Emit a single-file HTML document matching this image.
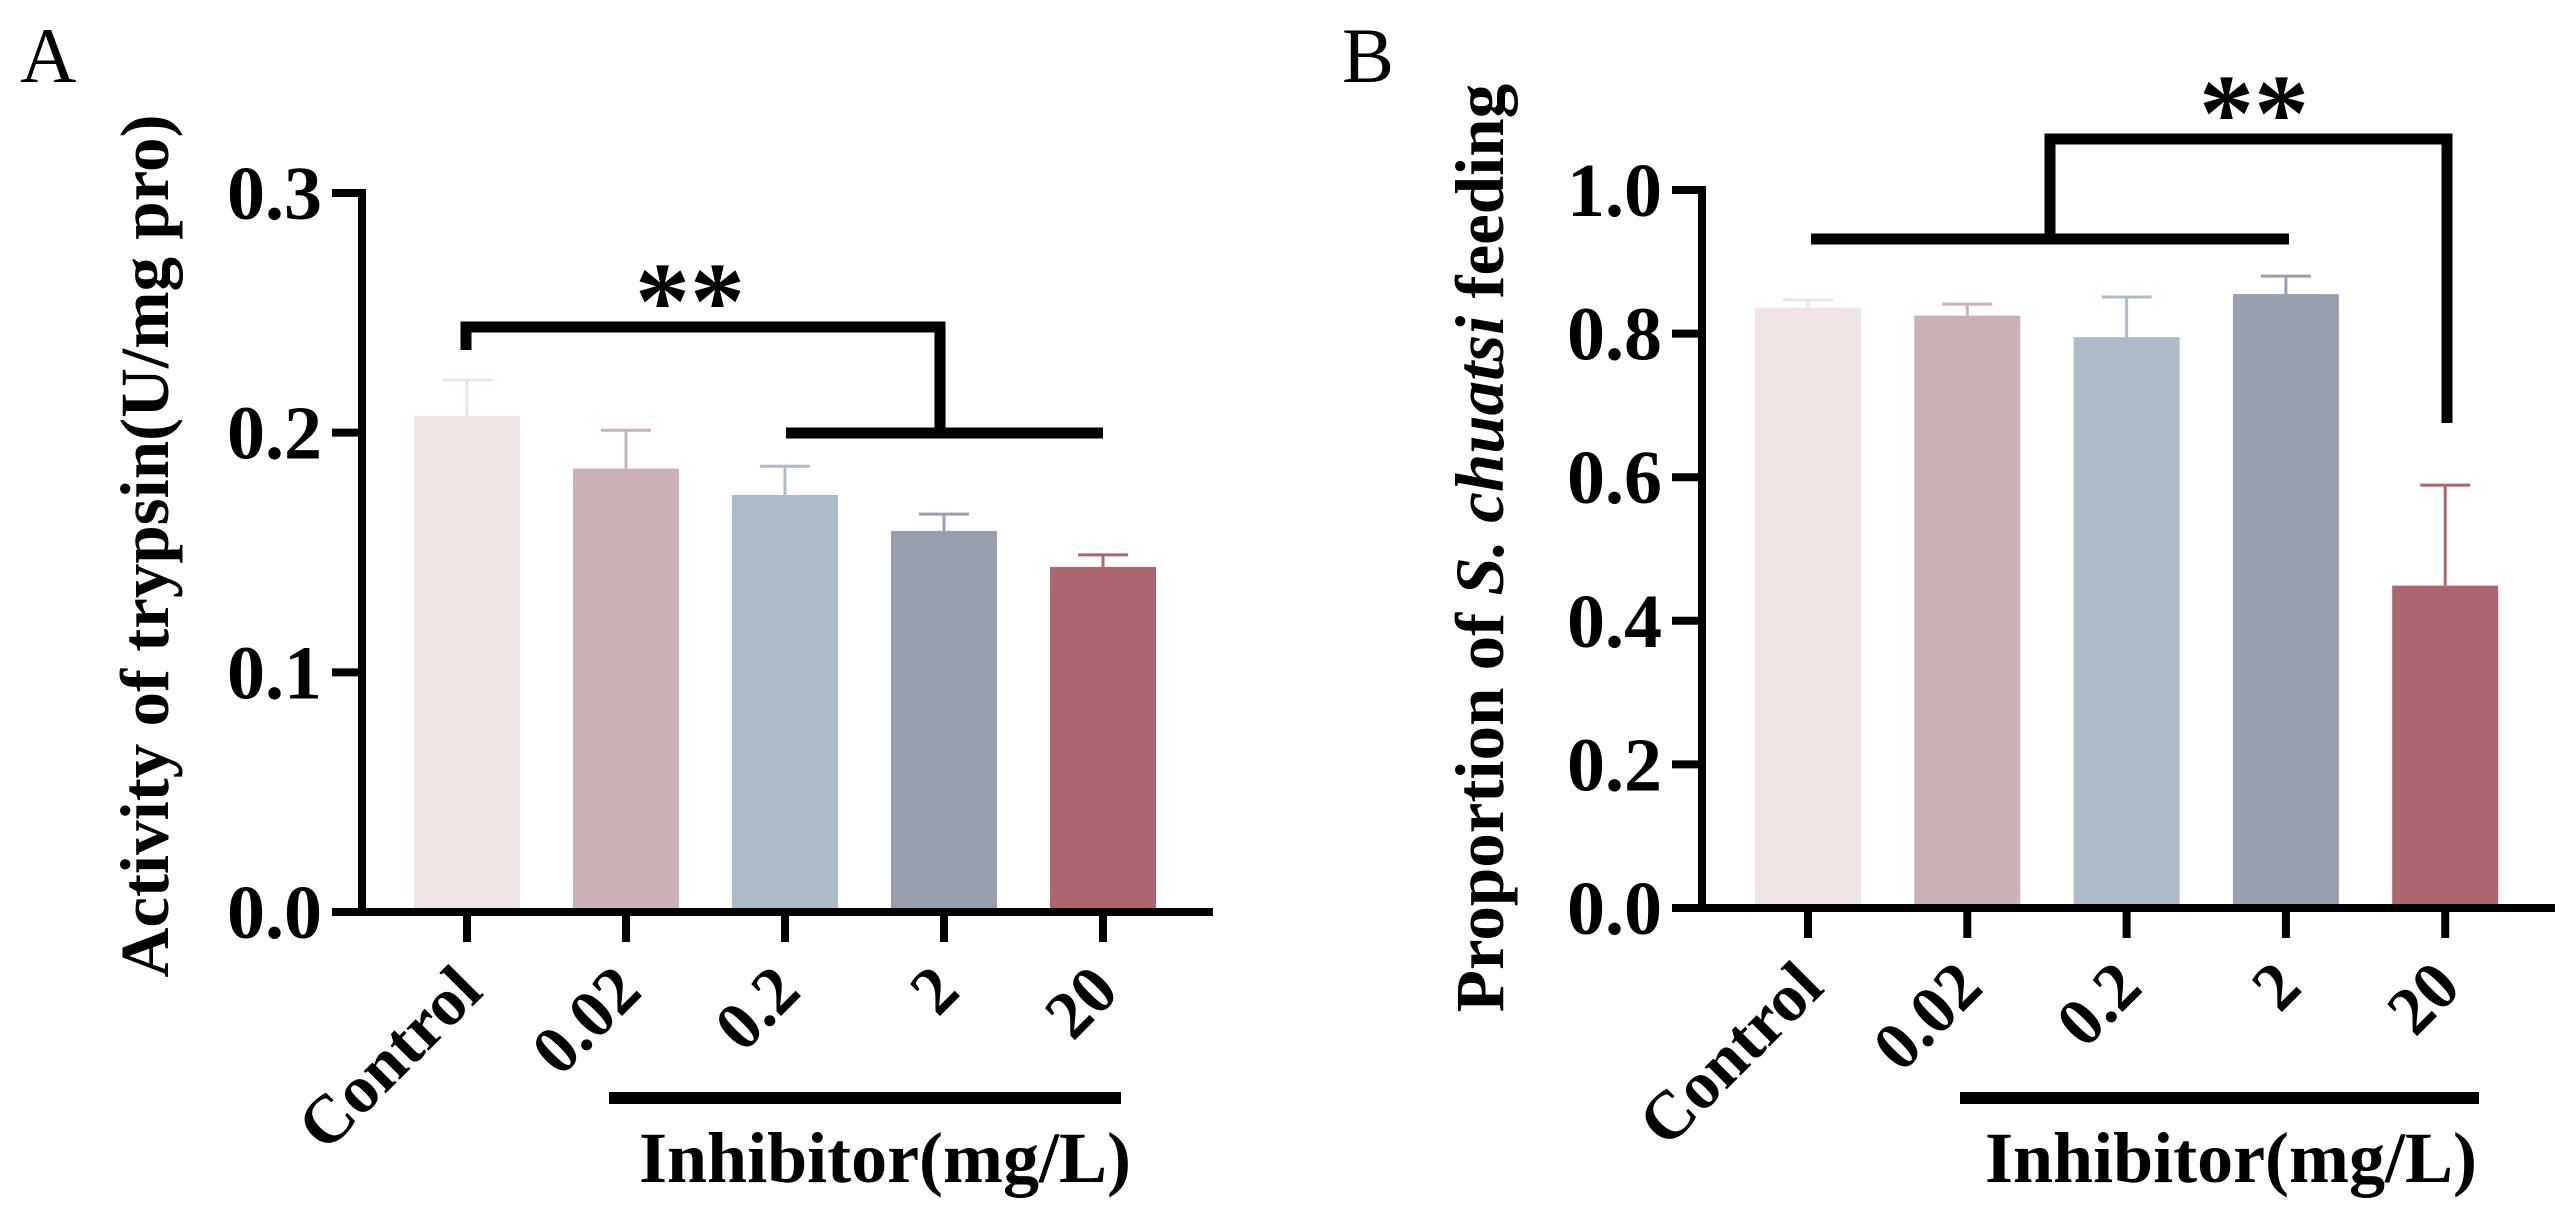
<!DOCTYPE html>
<html><head><meta charset="utf-8"><style>
html,body{margin:0;padding:0;background:#fff;}
svg{display:block;}
text{font-family:"Liberation Serif",serif;}
</style></head><body>
<svg id="chart" width="2575" height="1225" viewBox="0 0 2575 1225" xmlns="http://www.w3.org/2000/svg">
<g id="pa"></g>
<g id="pb"></g>
</svg>
<script>
const categories = ["Control","0.02","0.2","2","20"];
const colors = ["#efe3e3","#cbb1b5","#abbcc8","#979eae","#ae666e"];
const valuesA = [0.207,0.185,0.174,0.159,0.144];
const errorsA = [0.015,0.016,0.012,0.007,0.005];
const ticksA = [0,0.1,0.2,0.3];
const tickLabelsA = ["0.0","0.1","0.2","0.3"];
const valuesB = [0.836,0.825,0.795,0.855,0.449];
const errorsB = [0.011,0.016,0.056,0.025,0.14];
const ticksB = [0,0.2,0.4,0.6,0.8,1.0];
const tickLabelsB = ["0.0","0.2","0.4","0.6","0.8","1.0"];

const NS="http://www.w3.org/2000/svg";
function mk(parent,tag,attrs,txt){const e=document.createElementNS(NS,tag);for(const k in attrs)e.setAttribute(k,attrs[k]);if(txt!==undefined)e.textContent=txt;parent.appendChild(e);return e;}

function panel(g,cfg){
  const yScale=v=>cfg.y0-(v-cfg.vmin)/(cfg.vmax-cfg.vmin)*(cfg.y0-cfg.y1);
  const xScale=i=>cfg.x0+i*cfg.step;
  cfg.values.forEach((v,i)=>{
    const cx=xScale(i);
    const top=yScale(v+cfg.errors[i]);
    const l=mk(g,'line',{x1:cx,x2:cx,y1:yScale(v),y2:top,stroke:colors[i],'stroke-width':3});
    
    
    const c=mk(g,'line',{x1:cx-25,x2:cx+25,y1:top,y2:top,stroke:colors[i],'stroke-width':3});
    
    
    const r=mk(g,'rect',{x:cx-53,y:yScale(v),width:106,height:cfg.y0-yScale(v),fill:colors[i]});
    
    
  });
  const ya=mk(g,'line',{x1:cfg.ax,x2:cfg.ax,y1:yScale(cfg.vmax)-4,y2:cfg.y0+4,stroke:'#000','stroke-width':8});
  
  
  const xa=mk(g,'line',{x1:cfg.ax-30,x2:cfg.xend,y1:cfg.y0,y2:cfg.y0,stroke:'#000','stroke-width':8});
  
  
  cfg.ticks.forEach((t,i)=>{
    const y=yScale(t);
    const tk=mk(g,'line',{x1:cfg.ax-30,x2:cfg.ax,y1:y,y2:y,stroke:'#000','stroke-width':8});
    
    
    const tl=mk(g,'text',{x:cfg.ax-40,y:y+26,'text-anchor':'end','font-size':76,'font-weight':'bold'},cfg.tickLabels[i]);
    
    
  });
  categories.forEach((c,i)=>{
    const x=xScale(i);
    const tk=mk(g,'line',{x1:x,x2:x,y1:cfg.y0,y2:cfg.y0+30,stroke:'#000','stroke-width':8});
    
    
    const tl=mk(g,'text',{x:x+18,y:cfg.y0+82,'text-anchor':'end','font-size':68,'font-weight':'bold',transform:`rotate(-45 ${x+18} ${cfg.y0+82})`},c);
    
    
  });
}

const pa=document.getElementById('pa');
panel(pa,{x0:467,step:159,ax:362,y0:912,y1:193,vmin:0,vmax:0.3,xend:1213,values:valuesA,errors:errorsA,ticks:ticksA,tickLabels:tickLabelsA});
const pb=document.getElementById('pb');
panel(pb,{x0:1808,step:159.3,ax:1702,y0:908,y1:190,vmin:0,vmax:1.0,xend:2555,values:valuesB,errors:errorsB,ticks:ticksB,tickLabels:tickLabelsB});
</script>
<svg style="position:absolute;left:0;top:0" width="2575" height="1225">
<text x="20" y="82" font-size="78" font-family="Liberation Serif,serif">A</text>
<text x="1342" y="82" font-size="78" font-family="Liberation Serif,serif">B</text>
<text transform="translate(168 546) rotate(-90)" text-anchor="middle" font-size="69" font-weight="bold" font-family="Liberation Serif,serif">Activity of trypsin(U/mg pro)</text>
<text transform="translate(1503 548) rotate(-90)" text-anchor="middle" font-size="69" font-weight="bold" font-family="Liberation Serif,serif">Proportion of <tspan font-style="italic">S. chuatsi</tspan> feeding</text>
<path d="M466 350 V327 H940 V433 M786 433 H1103" fill="none" stroke="#000" stroke-width="11"/>
<text x="690" y="338" text-anchor="middle" font-size="110" font-weight="bold" font-family="Liberation Serif,serif">**</text>
<path d="M1811 239 H2289 M2050 239 V139 H2447 V423" fill="none" stroke="#000" stroke-width="11"/>
<text x="2254" y="150" text-anchor="middle" font-size="110" font-weight="bold" font-family="Liberation Serif,serif">**</text>
<line x1="609" x2="1121" y1="1098" y2="1098" stroke="#000" stroke-width="12"/>
<text x="885" y="1182" text-anchor="middle" font-size="72" font-weight="bold" font-family="Liberation Serif,serif">Inhibitor(mg/L)</text>
<line x1="1960" x2="2479" y1="1098" y2="1098" stroke="#000" stroke-width="12"/>
<text x="2231" y="1182" text-anchor="middle" font-size="72" font-weight="bold" font-family="Liberation Serif,serif">Inhibitor(mg/L)</text>
</svg>
</body></html>
